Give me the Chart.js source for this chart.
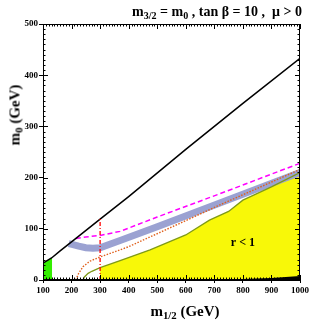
<!DOCTYPE html>
<html>
<head>
<meta charset="utf-8">
<script src="https://cdn.jsdelivr.net/npm/chart.js@4"></script>
<style>
body{margin:0;background:#fff;}
#wrap{position:relative;width:311px;height:327px;}
.lbl{position:absolute;font-family:"Liberation Serif","Times New Roman",serif;font-weight:bold;color:#000;white-space:pre;line-height:1;}
.lbl sub{font-size:0.72em;vertical-align:-0.3em;line-height:0;}
#title{right:9px;top:5px;font-size:14px;}
#xlab{left:185px;top:304px;font-size:15px;transform:translateX(-50%);}
#ylab{left:15px;top:115px;font-size:15px;transform:translate(-50%,-50%) rotate(-90deg);}
</style>
</head>
<body>
<div id="wrap">
<canvas id="c" width="311" height="327"></canvas>
<div class="lbl" id="title">m<sub>3/2</sub> = m<sub>0</sub> , tan β = 10 ,  μ &gt; 0</div>
<div class="lbl" id="xlab">m<sub>1/2</sub> (GeV)</div>
<div class="lbl" id="ylab">m<sub>0</sub> (GeV)</div>
</div>
<script>
// boundary curves (m1/2, m0 in GeV)
const blackX=[100,130,160,212,300,400,600,800,1000];
const blackY=[33,43,57,80,119,163,255,345,433];
const greenX=[100,132];
const greenY=[33,44];
const oliveX=[240,245,258,271,300,370,475,600,683,750,800,900,1000];
const oliveY=[0,6,13,17,24,38,59,88,117,134,156,182,210];
const yellowX=[300,370,475,600,683,750,800,900,1000];
const yellowY=[24,38,59,88,117,134,156,182,210];
const orangeX=[215,225,240,265,300,400,600,717,1000];
const orangeY=[0,13,26,37,45,65,116,146,216];
const blueX=[190,205,225,250,275,300,370,500,717,1000];
const blueY=[71,69,66,63,62,63,77,104,150,210];
const magX=[215,250,300,370,500,717,1000];
const magY=[81,84,87,95,123,168,228];
const wedgeX=[680,800,900,1000];
const wedgeY=[0,2,4,8];
const redX=[300,300];
const redY=[0,119];
const xTicks=[100,200,300,400,500,600,700,800,900,1000];
const yTicks=[0,100,200,300,400,500];

function pts(xs,ys){return xs.map((v,i)=>({x:v,y:ys[i]}));}
function curve(data,color,width,dash){
    return {data:data,showLine:true,pointRadius:0,borderColor:color,borderWidth:width,borderDash:dash||[],fill:false,tension:0};
}
function area(data,color){
    return {data:data,showLine:true,pointRadius:0,borderWidth:0,borderColor:color,backgroundColor:color,fill:'origin',tension:0};
}

const frame={
    id:'frame',
    afterDraw(chart){
        const {ctx,chartArea:a,scales:{x,y}}=chart;
        ctx.save();
        ctx.strokeStyle='#000';
        ctx.lineWidth=1;
        ctx.strokeRect(a.left+0.5,a.top+0.5,a.right-a.left-1,a.bottom-a.top-1);
        ctx.beginPath();
        for(let v=100;v<=1000;v+=10){
            const px=Math.round(x.getPixelForValue(v))+0.5;
            const len=v%100===0?5:2.5;
            ctx.moveTo(px,a.bottom);ctx.lineTo(px,a.bottom-len);
            ctx.moveTo(px,a.top);ctx.lineTo(px,a.top+len);
        }
        for(let v=0;v<=500;v+=10){
            const py=Math.round(y.getPixelForValue(v))+0.5;
            const len=v%100===0?5:2.5;
            ctx.moveTo(a.left,py);ctx.lineTo(a.left+len,py);
            ctx.moveTo(a.right,py);ctx.lineTo(a.right-len,py);
        }
        ctx.stroke();
        ctx.fillStyle='#000';
        ctx.font='bold 12px "Liberation Serif"';
        ctx.textAlign='center';
        ctx.textBaseline='middle';
        ctx.fillText('r < 1',x.getPixelForValue(800),y.getPixelForValue(72));
        ctx.restore();
    }
};

const tickFont={family:'"Liberation Serif"',weight:'bold',size:9};
new Chart(document.getElementById('c').getContext('2d'),{
    type:'scatter',
    data:{datasets:[
        curve(pts(redX,redY),'#ff0000',1.3,[4,2,1,2]),
        curve(pts(blackX,blackY),'#000000',1.5),
        curve(pts(magX,magY),'#ff00ff',1.5,[5,3]),
        curve(pts(orangeX,orangeY),'#e0601c',1.4,[1.5,1.5]),
        curve(pts(oliveX,oliveY),'#7f9a18',1.3),
        curve(pts(blueX,blueY),'#9ba2d2',7),
        area(pts(wedgeX,wedgeY),'#000000'),
        area(pts(greenX,greenY),'#33ee00'),
        area(pts(yellowX,yellowY),'#f8f808')
    ]},
    options:{
        responsive:false,
        animation:false,
        layout:{padding:{top:24,right:10,left:0,bottom:0}},
        plugins:{legend:{display:false},tooltip:{enabled:false}},
        scales:{
            x:{
                type:'linear',min:100,max:1000,
                afterBuildTicks:s=>{s.ticks=xTicks.map(v=>({value:v}));},
                afterFit:s=>{s.height=47;},
                ticks:{color:'#000',font:tickFont,padding:2,maxRotation:0,callback:v=>String(v)},
                grid:{drawOnChartArea:false,tickLength:3,color:'#000'},
                border:{color:'#000'}
            },
            y:{
                type:'linear',min:0,max:500,
                afterBuildTicks:s=>{s.ticks=yTicks.map(v=>({value:v}));},
                afterFit:s=>{s.width=43;},
                ticks:{color:'#000',font:tickFont,padding:1,callback:v=>String(v)},
                grid:{drawOnChartArea:false,tickLength:4,color:'#000'},
                border:{color:'#000'}
            }
        }
    },
    plugins:[frame]
});
</script>
</body>
</html>
